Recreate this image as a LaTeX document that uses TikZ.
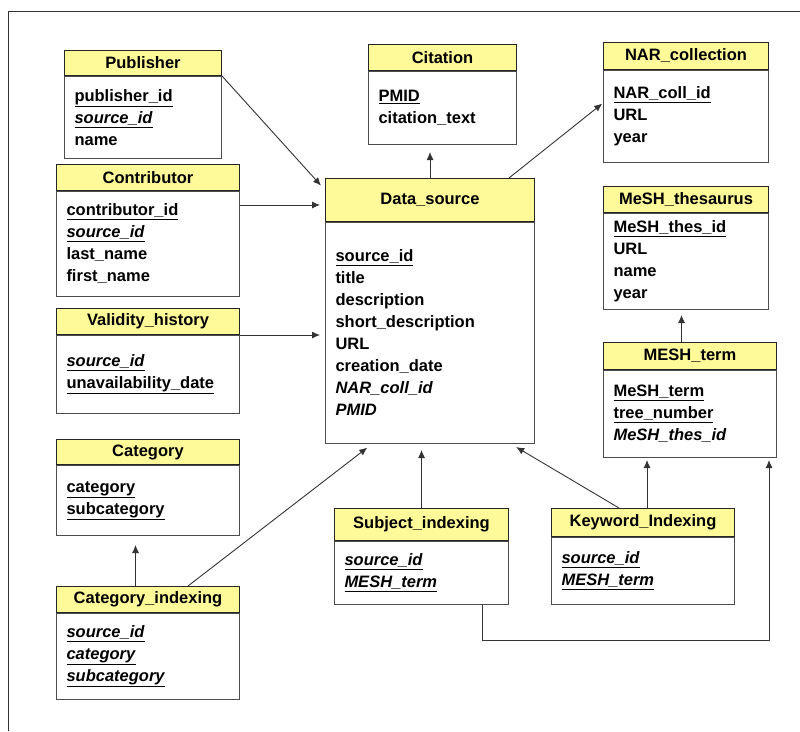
\documentclass[tikz,border=0pt]{standalone}
\usepackage{fontspec}
\setmainfont{Liberation Sans}
\usetikzlibrary{positioning, arrows.meta}

\begin{document}
\begin{tikzpicture}[
x=1pt, y=-1pt,
every node/.style={font=\fontsize{16.5}{22}\selectfont\bfseries, inner sep=0pt},
head/.style={draw=black!85, fill=yellow!40, line width=1pt, minimum width=#1, align=center},
field/.style={draw=black!70, fill=white, line width=1pt, anchor=north west, align=left, inner xsep=10pt, inner ysep=0pt},
arrow/.style={-{Latex[length=8pt, width=7pt]}, draw=black!80, line width=0.9pt},
frame/.style={draw=black!80, line width=1pt}
]
\useasboundingbox (0,0) rectangle (800,731);

% ====== Frame ======
\draw[frame] (8,731) -- (8,11) -- (800,11);

% ====== Left column ======
\node[field, text width=137pt, minimum height=82pt] (pubb) at (64,76) {\underline{publisher\_id}\\\underline{\textit{source\_id}}\\name};
\node[head=157pt, minimum height=25pt, above=0pt of pubb] (pubh) {Publisher};

\node[field, text width=163pt, minimum height=105pt] (conb) at (56,191) {\underline{contributor\_id}\\\underline{\textit{source\_id}}\\last\_name\\first\_name};
\node[head=183pt, minimum height=26pt, above=0pt of conb] (conh) {Contributor};

\node[field, text width=163pt, minimum height=78pt] (valb) at (56,335) {\underline{\textit{source\_id}}\\\underline{unavailability\_date}};
\node[head=183pt, minimum height=26pt, above=0pt of valb] (valh) {Validity\_history};

\node[field, text width=163pt, minimum height=70pt] (catb) at (56,465) {\underline{category}\\\underline{subcategory}};
\node[head=183pt, minimum height=25pt, above=0pt of catb] (cath) {Category};

\node[field, text width=163pt, minimum height=86pt] (cib) at (56,613) {\underline{\textit{source\_id}}\\\underline{\textit{category}}\\\underline{\textit{subcategory}}};
\node[head=183pt, minimum height=26pt, above=0pt of cib] (cih) {Category\_indexing};

% ====== Middle column ======
\node[field, text width=128pt, minimum height=73pt] (citb) at (368,71) {\underline{PMID}\\citation\_text};
\node[head=148pt, minimum height=26pt, above=0pt of citb] (cith) {Citation};

\node[field, text width=189pt, minimum height=221pt] (dsb) at (325,222) {\underline{source\_id}\\title\\description\\short\_description\\URL\\creation\_date\\\textit{NAR\_coll\_id}\\\textit{PMID}};
\node[head=209pt, minimum height=43pt, above=0pt of dsb] (dsh) {Data\_source};

\node[field, text width=154pt, minimum height=63pt] (subb) at (334,541) {\underline{\textit{source\_id}}\\\underline{\textit{MESH\_term}}};
\node[head=174pt, minimum height=32pt, above=0pt of subb] (subh) {Subject\_indexing};

\node[field, text width=163pt, minimum height=67pt] (kwb) at (551,537) {\underline{\textit{source\_id}}\\\underline{\textit{MESH\_term}}};
\node[head=183pt, minimum height=28pt, above=0pt of kwb] (kwh) {Keyword\_Indexing};

% ====== Right column ======
\node[field, text width=145pt, minimum height=92pt] (narb) at (603,70) {\underline{NAR\_coll\_id}\\URL\\year};
\node[head=165pt, minimum height=27pt, above=0pt of narb] (narh) {NAR\_collection};

\node[field, text width=145pt, minimum height=96pt] (thb) at (603,213) {\underline{MeSH\_thes\_id}\\URL\\name\\year};
\node[head=165pt, minimum height=26pt, above=0pt of thb] (thh) {MeSH\_thesaurus};

\node[field, text width=153pt, minimum height=87pt] (mtb) at (603,370) {\underline{MeSH\_term}\\\underline{tree\_number}\\\textit{MeSH\_thes\_id}};
\node[head=173pt, minimum height=27pt, above=0pt of mtb] (mth) {MESH\_term};

% ====== Connections ======
\coordinate (c1) at ([yshift=-14pt]conb.north east);
\coordinate (m1) at ([xshift=-8.5pt]mth.north);
\coordinate (ci1) at ([xshift=-12.5pt]cih.north);
\coordinate (k1) at ([xshift=96pt]kwh.north west);
\coordinate (s1) at ([xshift=-27pt]subb.south east);
\coordinate (m2) at ([xshift=-8pt]mtb.south east);

\draw[arrow, shorten >=6pt] (pubh.south east) -- ([yshift=-12pt]dsh.north west);
\draw[arrow, shorten >=5pt] (c1) -- (c1 -| dsh.west);
\draw[arrow, shorten >=5pt] (valh.south east) -- (valh.south east -| dsb.west);
\draw[arrow, shorten >=7pt] (dsh.north) -- (dsh.north |- citb.south);
\draw[arrow, shorten >=1pt] ([xshift=-26pt]dsh.north east) -- ([yshift=-33pt]narb.north west);
\draw[arrow, shorten >=5pt] (m1) -- (m1 |- thb.south);
\draw[arrow, shorten >=9pt] (ci1) -- (ci1 |- catb.south);
\draw[arrow, shorten >=6pt] ([xshift=-52pt]cih.north east) -- ([xshift=47pt]dsb.south west);
\draw[arrow, shorten >=6pt] (subh.north) -- (subh.north |- dsb.south);
\draw[arrow, shorten >=6pt] ([xshift=68pt]kwh.north west) -- ([xshift=-24pt]dsb.south east);
\draw[arrow, shorten >=2pt] (k1) -- (k1 |- mtb.south);
\draw[arrow, shorten >=2pt] (s1) -- ++(0,35) -| (m2);

\end{tikzpicture}
\end{document}
